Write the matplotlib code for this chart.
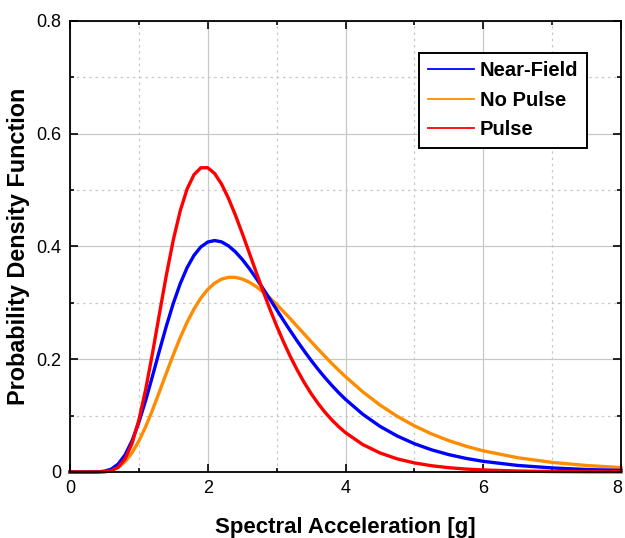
import numpy as np
import matplotlib
matplotlib.use("Agg")
import matplotlib.pyplot as plt
from matplotlib.ticker import MultipleLocator
from matplotlib.transforms import ScaledTranslation

plt.rcParams['font.family'] = ['Liberation Sans', 'DejaVu Sans']

# values
sa = [0.0, 0.2, 0.4, 0.5, 0.6, 0.7, 0.8, 0.9, 1.0, 1.1, 1.2, 1.3, 1.4, 1.5,
      1.6, 1.7, 1.8, 1.9, 2.0, 2.1, 2.2, 2.3, 2.4, 2.5, 2.6, 2.7, 2.8, 2.9,
      3.0, 3.1, 3.2, 3.3, 3.4, 3.5, 3.6, 3.7, 3.8, 3.9, 4.0, 4.25, 4.5,
      4.75, 5.0, 5.25, 5.5, 5.75, 6.0, 6.5, 7.0, 7.5, 8.0]
near_field = [0.0, 0.0, 0.0002, 0.0013, 0.0051, 0.0141, 0.0304, 0.0552,
              0.0882, 0.1276, 0.1711, 0.2159, 0.2593, 0.2992, 0.3339,
              0.3624, 0.3842, 0.3993, 0.4079, 0.4106, 0.4082, 0.4012,
              0.3907, 0.3772, 0.3615, 0.3442, 0.3259, 0.3070, 0.2879,
              0.2688, 0.2502, 0.2321, 0.2147, 0.1981, 0.1824, 0.1676,
              0.1538, 0.1408, 0.1288, 0.1025, 0.0810, 0.0639, 0.0502,
              0.0393, 0.0308, 0.0241, 0.0189, 0.0116, 0.0072, 0.0044,
              0.0028]
no_pulse = [0.0, 0.0, 0.0001, 0.0008, 0.0031, 0.0085, 0.0185, 0.0338,
            0.0549, 0.0808, 0.1106, 0.1429, 0.1758, 0.2080, 0.2382,
            0.2655, 0.2890, 0.3086, 0.3238, 0.3349, 0.3420, 0.3453,
            0.3453, 0.3423, 0.3368, 0.3292, 0.3198, 0.3090, 0.2972,
            0.2846, 0.2716, 0.2582, 0.2447, 0.2313, 0.2182, 0.2053,
            0.1927, 0.1806, 0.1690, 0.1423, 0.1189, 0.0988, 0.0819,
            0.0675, 0.0556, 0.0457, 0.0375, 0.0253, 0.0170, 0.0115,
            0.0078]
pulse = [0.0, 0.0, 0.0, 0.0003, 0.0022, 0.0084, 0.0232, 0.0504, 0.0921,
         0.1472, 0.2122, 0.2817, 0.3499, 0.4117, 0.4631, 0.5019, 0.5274,
         0.5396, 0.5397, 0.5294, 0.5108, 0.4857, 0.4561, 0.4236, 0.3897,
         0.3555, 0.3220, 0.2897, 0.2592, 0.2308, 0.2045, 0.1806, 0.1588,
         0.1393, 0.1219, 0.1063, 0.0926, 0.0805, 0.0698, 0.0487, 0.0338,
         0.0233, 0.0161, 0.0111, 0.0076, 0.0052, 0.0036, 0.0017, 0.0008,
         0.0004, 0.0002]

series = [("Near-Field", near_field, "#0000ff", 3),
          ("No Pulse", no_pulse, "#ff8c00", 2),
          ("Pulse", pulse, "#ff0000", 4)]

fig = plt.figure(figsize=(6.25, 5.38), dpi=100)
ax = fig.add_axes([0.112, 0.1227, 0.8816, 0.8383])

for name, vals, col, z in series:
    ax.plot(sa, vals, color=col, lw=2.4, label=name, zorder=z,
            solid_joinstyle='round', clip_on=False)

ax.set_xlim(0, 8)
ax.set_ylim(0, 0.8)
ax.xaxis.set_minor_locator(MultipleLocator(1))
ax.yaxis.set_minor_locator(MultipleLocator(0.1))
ax.set_xticks([0, 2, 4, 6, 8])
ax.set_xticklabels(['0', '2', '4', '6', '8'])
ax.set_yticks([0, 0.2, 0.4, 0.6, 0.8])
ax.set_yticklabels(['0', '0.2', '0.4', '0.6', '0.8'])

ax.grid(which='major', color='#c8c8c8', lw=0.9, ls='-')
ax.grid(which='minor', color='#c8c8c8', lw=0.9, ls=(0, (2, 3)))
ax.set_axisbelow(True)

ax.tick_params(which='both', direction='in', top=True, right=True,
               labelsize=13, width=1.2, colors='black')
ax.tick_params(which='major', length=6, pad=6)
ax.tick_params(which='minor', length=3)
for sp in ax.spines.values():
    sp.set_linewidth(1.3)
    sp.set_zorder(5)

# keep the last x label inside the canvas
last = ax.get_xticklabels()[-1]
last.set_transform(last.get_transform() +
                   ScaledTranslation(-4 / 100, 0, fig.dpi_scale_trans))

ax.set_xlabel("Spectral Acceleration [g]", fontsize=16, fontweight='bold',
              labelpad=14)
ax.set_ylabel("Probability Density Function", fontsize=16.8,
              fontweight='bold', labelpad=5)

leg = ax.legend(loc='upper right', bbox_to_anchor=(0.938, 0.929),
                fontsize=14.5, frameon=True, fancybox=False, framealpha=1,
                handlelength=2.3, handletextpad=0.3, borderpad=0.42,
                labelspacing=0.52, borderaxespad=0)
leg.get_frame().set_edgecolor('black')
leg.get_frame().set_linewidth(1.4)
for t in leg.get_texts():
    t.set_fontweight('bold')
for ln in leg.get_lines():
    ln.set_linewidth(1.3)

fig.savefig("out.png", dpi=100)
